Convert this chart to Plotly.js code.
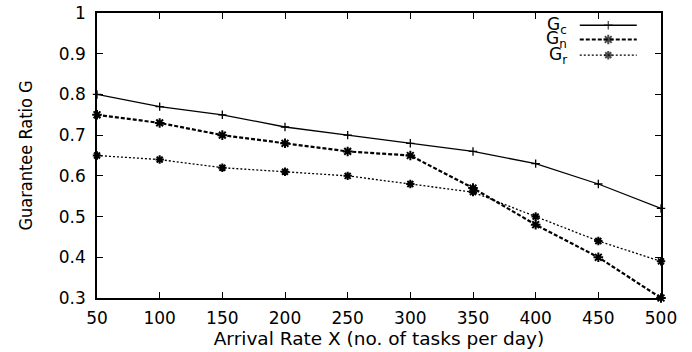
<!DOCTYPE html>
<html>
<head>
<meta charset="utf-8">
<script src="https://cdn.plot.ly/plotly-3.0.1.min.js"></script>
<style>html,body{margin:0;padding:0;background:#fff;}#chart{width:692px;height:352px;}</style>
</head>
<body>
<div id="chart"></div>
<script>
// ---- data ----
const arrivalRates = [50, 100, 150, 200, 250, 300, 350, 400, 450, 500];
const gC = [0.80, 0.77, 0.75, 0.72, 0.70, 0.68, 0.66, 0.63, 0.58, 0.52];
const gN = [0.75, 0.73, 0.70, 0.68, 0.66, 0.65, 0.57, 0.48, 0.40, 0.30];
const gR = [0.65, 0.64, 0.62, 0.61, 0.60, 0.58, 0.56, 0.50, 0.44, 0.39];
const seriesNames = ['G<sub>c</sub>', 'G<sub>n</sub>', 'G<sub>r</sub>'];
const xTickVals = [50, 100, 150, 200, 250, 300, 350, 400, 450, 500];
const yTickVals = [0.3, 0.4, 0.5, 0.6, 0.7, 0.8, 0.9, 1];
const yTickText = ['0.3', '0.4', '0.5', '0.6', '0.7', '0.8', '0.9', '1'];
const xTitle = 'Arrival Rate X (no. of tasks per day)';
const yTitle = 'Guarantee Ratio G';

// ---- styles ----
const styles = [
  {line: {color: '#000', width: 1.3, dash: 'solid'}, marker: {symbol: 'cross-thin-open', size: 6, color: '#000', line: {color: '#000', width: 1.3}}},
  {line: {color: '#000', width: 2.2, dash: '4px,2px'}, marker: {symbol: 'asterisk-open', size: 8, color: '#000', line: {color: '#000', width: 2}}},
  {line: {color: '#000', width: 1.3, dash: '2px,2px'}, marker: {symbol: 'asterisk-open', size: 7, color: '#000', line: {color: '#000', width: 2}}}
];
const seriesValues = [gC, gN, gR];

const traces = seriesValues.map((vals, i) => ({
  x: arrivalRates, y: vals, type: 'scatter', mode: 'lines+markers',
  name: seriesNames[i], line: styles[i].line, marker: styles[i].marker,
  showlegend: false, cliponaxis: false
}));

// custom legend (text left of sample), drawn on invisible overlaying axes in plot-fraction units
const legendRowsY = [0.957, 0.907, 0.852];
const legendSampleX = [0.856, 0.9065, 0.957];
const legendTextX = 0.836;
legendRowsY.forEach((ly, i) => {
  traces.push({
    x: legendSampleX, y: [ly, ly, ly], xaxis: 'x2', yaxis: 'y2', type: 'scatter',
    mode: 'lines+markers', line: styles[i].line,
    marker: Object.assign({}, styles[i].marker, {size: [0, styles[i].marker.size, 0]}),
    showlegend: false, hoverinfo: 'skip', cliponaxis: false
  });
});

const tickFont = {family: 'DejaVu Sans, Arial, sans-serif', size: 17, color: '#000'};
const axisCommon = {
  showline: true, linecolor: '#000', linewidth: 1.5, mirror: 'ticks',
  ticks: 'inside', ticklen: 6, tickwidth: 1, tickcolor: '#000',
  showgrid: false, zeroline: false, tickfont: tickFont
};

const layout = {
  width: 692, height: 352,
  margin: {l: 97, r: 31, t: 13, b: 54},
  paper_bgcolor: '#fff', plot_bgcolor: '#fff',
  xaxis: Object.assign({}, axisCommon, {
    range: [50, 500], tickvals: xTickVals, ticklabelstandoff: 4,
    title: {text: xTitle, standoff: 5, font: {family: 'DejaVu Sans, Arial, sans-serif', size: 18.5, color: '#000'}}
  }),
  yaxis: Object.assign({}, axisCommon, {
    range: [0.3, 1], tickvals: yTickVals, ticktext: yTickText, ticklabelstandoff: 6,
    title: {text: yTitle, standoff: 22, font: {family: 'Liberation Sans Narrow, DejaVu Sans Condensed, Arial, sans-serif', size: 18, color: '#000'}}
  }),
  xaxis2: {overlaying: 'x', range: [0, 1], anchor: 'y2', showline: false, showticklabels: false, ticks: '', showgrid: false, zeroline: false, fixedrange: true},
  yaxis2: {overlaying: 'y', range: [0, 1], anchor: 'x2', showline: false, showticklabels: false, ticks: '', showgrid: false, zeroline: false, fixedrange: true},
  annotations: seriesNames.map((t, i) => ({
    xref: 'paper', yref: 'paper', x: legendTextX, y: legendRowsY[i],
    xanchor: 'right', yanchor: 'middle', text: t, showarrow: false,
    font: {family: 'DejaVu Sans, Arial, sans-serif', size: 17, color: '#000'}
  })),
  showlegend: false
};

Plotly.newPlot('chart', traces, layout, {displayModeBar: false});
</script>
</body>
</html>
